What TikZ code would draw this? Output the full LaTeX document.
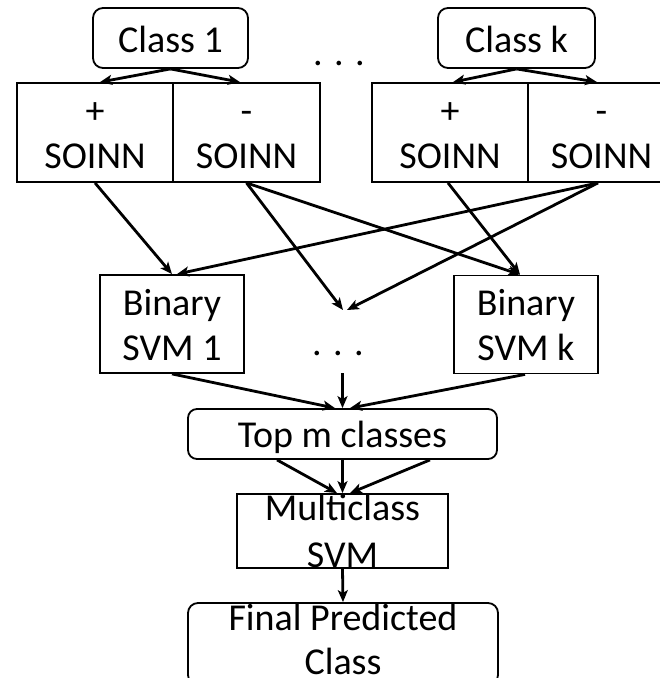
\documentclass[tikz,border=0pt]{standalone}
\usepackage{fontspec}
\setmainfont{Carlito}
\usetikzlibrary{arrows.meta}

\begin{document}
\begin{tikzpicture}[x=1pt,y=-1pt,
  box/.style={draw,line width=1.8pt,inner sep=0pt},
  rbox/.style={box,rounded corners=10pt},
  txt/.style={inner sep=0pt,anchor=base,font=\fontsize{38}{44}\selectfont},
  arr/.style={line width=2.8pt,-{Stealth[length=12pt,width=10pt,inset=3pt]}}]
\useasboundingbox (0,0) rectangle (660,678);
\clip (0,0) rectangle (660,678);

% class boxes
\node[rbox,minimum width=155pt,minimum height=60pt] (c1) at (170.5,38) {};
\node[rbox,minimum width=157pt,minimum height=60pt] (ck) at (516.5,38) {};
\node[txt] (c1t) at (170.5,52) {Class 1};
\node[txt] (ckt) at (516.5,52) {Class k};
\node[txt] (topdots) at (339,65) {. . .};

% SOINN pairs
\node[box,minimum width=156pt,minimum height=99pt] (p1) at (95,132.5) {};
\node[box,minimum width=147pt,minimum height=99pt] (m1) at (246.5,132.5) {};
\node[box,minimum width=156pt,minimum height=99pt] (pk) at (450,132.5) {};
\node[box,minimum width=147pt,minimum height=99pt] (mk) at (601.5,132.5) {};
\node[txt] (p1s) at (95,123) {+};
\node[txt] (p1t) at (95,168) {SOINN};
\node[txt] (m1s) at (246.5,123) {-};
\node[txt] (m1t) at (246.5,168) {SOINN};
\node[txt] (pks) at (450,123) {+};
\node[txt] (pkt) at (450,168) {SOINN};
\node[txt] (mks) at (601.5,123) {-};
\node[txt] (mkt) at (601.5,168) {SOINN};

% binary SVMs
\node[box,minimum width=144pt,minimum height=98pt] (s1) at (172,324) {};
\node[box,minimum width=144pt,minimum height=98pt] (sk) at (526,324.5) {};
\node[txt] (s1a) at (172,315) {Binary};
\node[txt] (s1b) at (172,360) {SVM 1};
\node[txt] (ska) at (526,315) {Binary};
\node[txt] (skb) at (526,360) {SVM k};
\node[txt] (middots) at (338,355) {. . .};
\coordinate (hubA) at (343,310);
\coordinate (hubB) at (347,310);
\coordinate (hubC) at (342.5,373);

% selection and final stages
\node[rbox,rounded corners=9pt,minimum width=309pt,minimum height=50pt] (top) at (342.5,434) {};
\node[txt] (topt) at (342.5,447) {Top m classes};
\node[box,minimum width=211pt,minimum height=74pt] (multi) at (342.5,531) {};
\node[txt] (multia) at (342.5,520) {Multiclass};
\node[txt] (multib) at (342.5,567) {SVM};
\node[rbox,minimum width=310pt,minimum height=82pt] (final) at (343,644) {};
\node[txt] (finala) at (343,630) {Final Predicted};
\node[txt] (finalb) at (343,674) {Class};

% class to SOINN
\draw[arr] (c1.south) -- ([xshift=5pt]p1.north);
\draw[arr] (c1.south) -- ([xshift=-6.5pt]m1.north);
\draw[arr] (ck.south) -- ([xshift=3pt]pk.north);
\draw[arr] (ck.south) -- ([xshift=-4.5pt]mk.north);

% SOINN to binary SVMs
\draw[arr] (p1.south) -- (s1.north);
\draw[arr] ([xshift=-3.5pt]mk.south) -- ([xshift=5pt]s1.north);
\draw[arr] (m1.south) -- (hubA);
\draw[arr] ([xshift=-3.5pt]mk.south) -- (hubB);
\draw[arr] (m1.south) -- ([xshift=-6pt]sk.north);
\draw[arr] ([xshift=-2pt]pk.south) -- ([xshift=-6pt]sk.north);

% binary SVMs to top m
\draw[arr] (s1.south) -- ([xshift=-7.5pt]top.north);
\draw[arr] (hubC) -- (top.north);
\draw[arr] ([xshift=-1pt]sk.south) -- ([xshift=7.5pt]top.north);

% top m to multiclass to final
\draw[arr] ([xshift=-65.5pt]top.south) -- ([xshift=-5.5pt]multi.north);
\draw[arr] (top.south) -- (multi.north);
\draw[arr] ([xshift=87.5pt]top.south) -- ([xshift=7.5pt]multi.north);
\draw[arr] (multi.south) -- (final.north);
\end{tikzpicture}
\end{document}
